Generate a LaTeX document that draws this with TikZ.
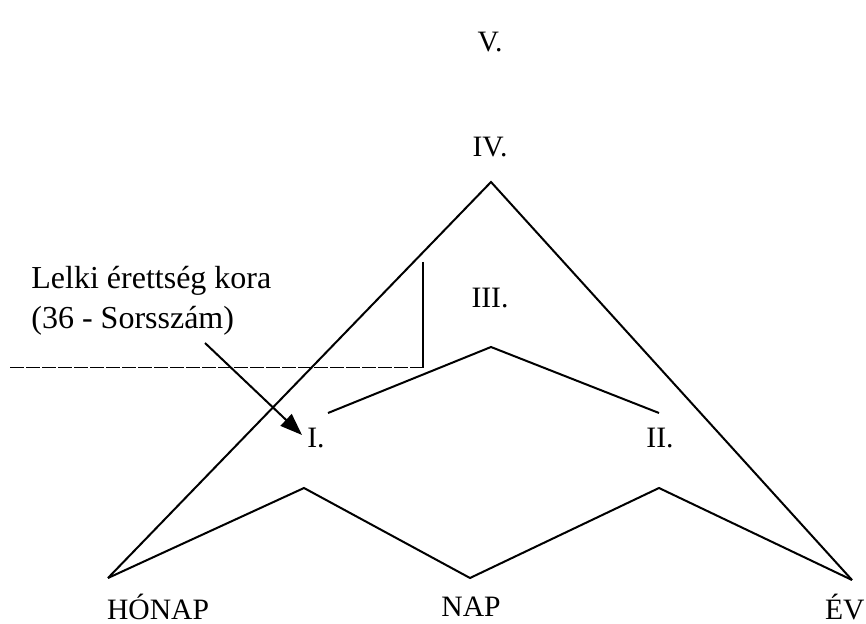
\documentclass[tikz,border=0pt]{standalone}
\usepackage{fontspec}
\setmainfont{Liberation Serif}
\usetikzlibrary{arrows.meta}
\begin{document}
\begin{tikzpicture}[x=0.5pt,y=-0.5pt,
  ln/.style={line width=1pt,black},
  lbl/.style={inner sep=0pt,font=\fontsize{14.8}{18}\selectfont}]
\useasboundingbox (0,0) rectangle (866,624);
% vertices
\coordinate (apex) at (491,182);
\coordinate (hl) at (108,578);
\coordinate (ev) at (852,580);
\coordinate (z1) at (304,488);
\coordinate (z2) at (470,578);
\coordinate (z3) at (659,488);
\coordinate (c1) at (328,413);
\coordinate (c2) at (491,347);
\coordinate (c3) at (659,413);
\coordinate (vt) at (423,262);
\coordinate (vb) at (423,368);
\coordinate (dl) at (10,368);
\coordinate (as) at (205,343);
\coordinate (ae) at (302,435);
% lines
\draw[ln] (hl) -- (apex) -- (ev);
\draw[ln] (hl) -- (z1) -- (z2) -- (z3) -- (ev);
\draw[ln] (c1) -- (c2) -- (c3);
\draw[line width=0.6pt] (vt) -- (vb);
\draw[line width=0.5pt,dash pattern=on 7pt off 1pt] (dl) -- (vb);
\draw[ln,-{Triangle[length=11pt,width=8pt]}] (as) -- (ae);
% labels
\node[lbl] (v) at (490,42) {V.};
\node[lbl] (iv) at (490,147) {IV.};
\node[lbl] (iii) at (490,298) {III.};
\node[lbl] (i) at (316,438) {I.};
\node[lbl] (ii) at (660,438) {II.};
\node[lbl] (honap) at (158,607) {HÓNAP};
\node[lbl] (nap) at (471,607) {NAP};
\node[lbl,anchor=east] (evl) at (865,607) {ÉV};
\node[lbl,anchor=north west,align=left,font=\fontsize{16}{20}\selectfont] (note) at (31,266) {Lelki érettség kora\\(36 - Sorsszám)};
\end{tikzpicture}
\end{document}
